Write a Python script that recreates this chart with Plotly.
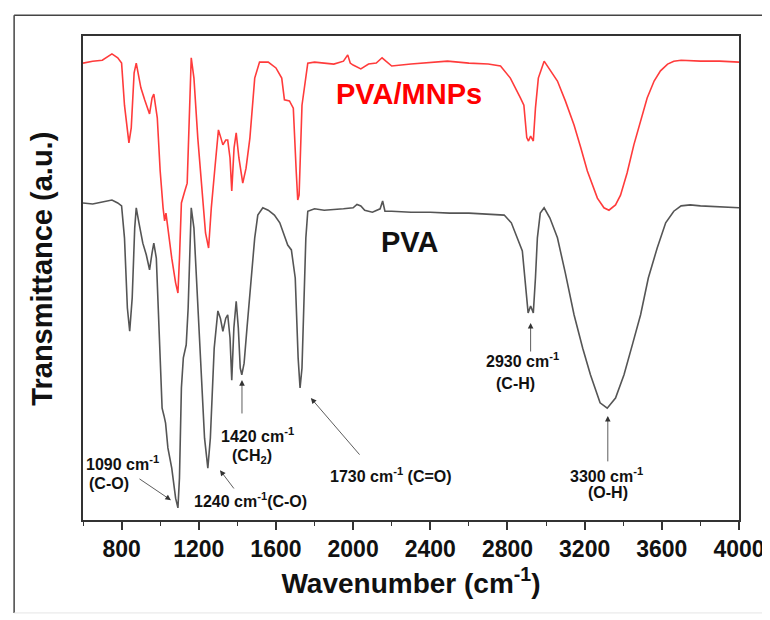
import plotly.graph_objects as go

# ---------------- data ----------------
pva_wn = [600, 650, 700, 750, 780, 800, 815, 830, 842, 855, 868, 876, 890, 910, 928, 945, 958, 967, 980, 995,
          1010, 1020, 1028, 1040, 1060, 1080, 1092, 1100, 1110, 1120, 1135, 1145, 1155, 1161, 1175, 1190, 1210,
          1230, 1247, 1260, 1280, 1299, 1312, 1325, 1340, 1350, 1362, 1371, 1382, 1394, 1405, 1415, 1423, 1435,
          1450, 1470, 1490, 1506, 1532, 1560, 1592, 1620, 1645, 1661, 1680, 1700, 1715, 1725, 1735, 1745, 1755,
          1765, 1800, 1850, 1900, 1950, 2000, 2020, 2040, 2060, 2100, 2140, 2153, 2165, 2200, 2300, 2400, 2500,
          2600, 2700, 2783, 2820, 2852, 2877, 2895, 2907, 2920, 2934, 2945, 2955, 2970, 2990, 3020, 3059, 3100,
          3145, 3190, 3230, 3280, 3317, 3360, 3404, 3450, 3490, 3530, 3576, 3620, 3662, 3700, 3747, 3800, 3900,
          4000]
pva_t = [65.5, 65.3, 65.7, 66.1, 65.5, 64.9, 58.3, 43.8, 39.0, 45.9, 60.3, 64.5, 61.4, 57.2, 54.8, 51.7, 55.2,
         57.2, 54.1, 39.7, 23.1, 21.5, 20.0, 14.9, 10.7, 4.5, 2.5, 8.7, 27.3, 33.5, 36.2, 43.8, 60.3, 64.5, 60.3,
         47.9, 31.4, 16.9, 10.7, 16.9, 35.5, 43.2, 41.7, 39.0, 41.7, 42.4, 37.6, 28.9, 39.7, 45.2, 39.7, 31.4,
         30.0, 32.4, 39.7, 50.0, 58.3, 63.0, 64.5, 64.0, 63.0, 61.4, 58.7, 56.8, 55.8, 50.0, 33.5, 27.3, 31.4,
         43.8, 58.3, 63.8, 64.3, 64.0, 64.1, 64.3, 64.5, 65.2, 64.9, 64.0, 63.6, 64.3, 65.9, 63.8, 63.8, 63.6,
         63.6, 63.4, 63.4, 63.2, 63.0, 61.4, 58.3, 55.6, 47.9, 42.8, 44.2, 42.8, 50.0, 58.3, 63.4, 64.5, 62.4,
         58.3, 51.0, 42.4, 35.5, 30.0, 24.2, 23.1, 25.2, 30.0, 36.6, 42.4, 50.0, 56.2, 61.4, 63.8, 64.9, 65.1,
         64.9, 64.7, 64.5]

mnp_wn = [600, 650, 700, 750, 780, 800, 815, 830, 838, 850, 865, 876, 900, 920, 945, 958, 967, 985, 1000, 1015,
          1023, 1030, 1045, 1060, 1080, 1092, 1100, 1110, 1125, 1140, 1161, 1175, 1195, 1215, 1235, 1251, 1265,
          1285, 1302, 1315, 1325, 1340, 1350, 1362, 1371, 1383, 1394, 1408, 1428, 1445, 1465, 1490, 1515, 1560,
          1600, 1630, 1644, 1670, 1690, 1705, 1713, 1720, 1735, 1765, 1800, 1850, 1900, 1950, 1972, 1985, 2000,
          2040, 2080, 2120, 2150, 2170, 2200, 2300, 2400, 2489, 2600, 2700, 2764, 2815, 2867, 2885, 2900, 2909,
          2920, 2934, 2945, 2960, 2990, 3020, 3059, 3100, 3145, 3180, 3214, 3266, 3300, 3326, 3360, 3386, 3420,
          3455, 3490, 3524, 3560, 3593, 3630, 3662, 3700, 3800, 3900, 4000]
mnp_t = [94.4, 94.8, 95.0, 96.3, 95.5, 94.4, 85.7, 79.8, 77.9, 81.0, 92.4, 94.4, 89.3, 86.8, 83.9, 87.2, 88.0,
         83.1, 72.1, 64.5, 61.8, 63.4, 58.3, 54.1, 49.0, 46.9, 54.1, 65.5, 67.6, 69.6, 95.5, 91.3, 78.9, 68.6,
         59.3, 56.2, 64.5, 73.3, 80.6, 78.9, 77.5, 78.5, 78.5, 74.8, 68.0, 76.9, 80.0, 74.8, 69.6, 72.7, 78.9,
         91.3, 94.6, 94.6, 93.4, 91.3, 86.8, 86.6, 85.1, 72.1, 66.1, 67.1, 85.7, 94.4, 94.6, 94.4, 94.2, 94.8,
         96.1, 94.4, 94.0, 93.2, 94.2, 94.4, 95.5, 94.8, 93.8, 94.2, 94.6, 94.8, 94.4, 94.2, 93.8, 91.3, 87.2,
         85.7, 79.0, 78.3, 79.3, 78.3, 85.1, 91.3, 94.8, 93.0, 90.7, 86.6, 81.6, 76.9, 72.1, 66.5, 64.5, 64.0,
         65.1, 67.1, 71.7, 77.5, 82.6, 87.2, 90.7, 92.8, 94.2, 94.8, 95.0, 94.8, 94.8, 94.6]

tick_vals = [800, 1200, 1600, 2000, 2400, 2800, 3200, 3600, 4000]
tick_text = ["800", "1200", "1600", "2000", "2400", "2800", "3200", "3600", "4000"]

# peak labels: (text, x, y)
peak_labels = [
    ("1420 cm<sup>-1</sup>", 1502, 17.6),
    ("(CH<sub>2</sub>)", 1476, 13.2),
    ("1090 cm<sup>-1</sup>", 807, 11.8),
    ("(C-O)", 735, 7.6),
    ("1240 cm<sup>-1</sup>(C-O)", 1470, 4.1),
    ("1730 cm<sup>-1</sup> (C=O)", 2196, 9.3),
    ("2930 cm<sup>-1</sup>", 2880, 33.1),
    ("(C-H)", 2844, 28.3),
    ("3300 cm<sup>-1</sup>", 3315, 9.3),
    ("(O-H)", 3320, 5.6),
]
# arrows: (head_x, head_y, tail_x, tail_y)
arrows = [
    (1424, 28.9, 1424, 21.7),
    (1056, 4.1, 885, 8.7),
    (1310, 10.3, 1388, 6.2),
    (1781, 25.2, 2040, 13.2),
    (2920, 40.7, 2920, 34.5),
    (3320, 21.5, 3320, 11.8),
]

FONT = "Liberation Sans, Arial, sans-serif"

fig = go.Figure()
fig.add_trace(go.Scatter(x=mnp_wn, y=mnp_t, mode="lines", name="PVA/MNPs",
                         line=dict(color="#ff3b3b", width=1.6)))
fig.add_trace(go.Scatter(x=pva_wn, y=pva_t, mode="lines", name="PVA",
                         line=dict(color="#555555", width=1.6)))

ann = []
ann.append(dict(x=2289, y=88.0, text="<b>PVA/MNPs</b>", showarrow=False, xanchor="center", yanchor="middle",
                font=dict(family=FONT, size=29, color="#ff0000")))
ann.append(dict(x=2294, y=57.4, text="<b>PVA</b>", showarrow=False, xanchor="center", yanchor="middle",
                font=dict(family=FONT, size=29, color="#111111")))
for t, x, y in peak_labels:
    ann.append(dict(x=x, y=y, text="<b>" + t + "</b>", showarrow=False, xanchor="center", yanchor="middle",
                    font=dict(family=FONT, size=16, color="#111111")))
for hx, hy, tx, ty in arrows:
    ann.append(dict(x=hx, y=hy, ax=tx, ay=ty, xref="x", yref="y", axref="x", ayref="y",
                    text="", showarrow=True, arrowhead=2, arrowsize=1.4, arrowwidth=0.8,
                    arrowcolor="#333333"))
ann.append(dict(x=-0.062, y=0.52, xref="paper", yref="paper", text="<b>Transmittance (a.u.)</b>",
                xanchor="center", yanchor="middle",
                textangle=-90, showarrow=False, font=dict(family=FONT, size=29, color="#111111")))

fig.update_layout(
    width=770, height=620,
    margin=dict(l=75, r=39, t=28, b=108),
    paper_bgcolor="white", plot_bgcolor="white",
    showlegend=False,
    annotations=ann,
    font=dict(family=FONT, color="#111111"),
    xaxis=dict(range=[600, 4000], tickvals=tick_vals, ticktext=["<b>" + s + "</b>" for s in tick_text],
               ticks="outside", ticklen=8, tickwidth=1.5, tickcolor="#333333",
               minor=dict(tick0=600, dtick=200, ticks="outside", ticklen=4, tickwidth=1.2, tickcolor="#333333"),
               showline=True, linecolor="#333333", linewidth=1.5, mirror=True, showgrid=False, zeroline=False,
               tickfont=dict(family=FONT, size=23, color="#111111"),
               title=dict(text="<b>Wavenumber (cm<sup>-1</sup>)</b>", standoff=12,
                          font=dict(family=FONT, size=28, color="#111111"))),
    yaxis=dict(range=[0, 100], showticklabels=False, ticks="", showline=True, linecolor="#333333",
               linewidth=1.5, mirror=True, showgrid=False, zeroline=False),
    shapes=[
        dict(type="line", xref="paper", yref="paper", x0=-0.105, x1=-0.105, y0=-0.192, y1=1.043,
             line=dict(color="#444444", width=1.5)),
        dict(type="line", xref="paper", yref="paper", x0=-0.105, x1=1.053, y0=1.043, y1=1.043,
             line=dict(color="#444444", width=1.5)),
        dict(type="line", xref="paper", yref="paper", x0=1.053, x1=1.053, y0=-0.192, y1=1.043,
             line=dict(color="#444444", width=1.5)),
        dict(type="line", xref="paper", yref="paper", x0=-0.105, x1=1.053, y0=-0.192, y1=-0.192,
             line=dict(color="#e6e6e6", width=1)),
    ],
)

fig.write_html("out.html")
